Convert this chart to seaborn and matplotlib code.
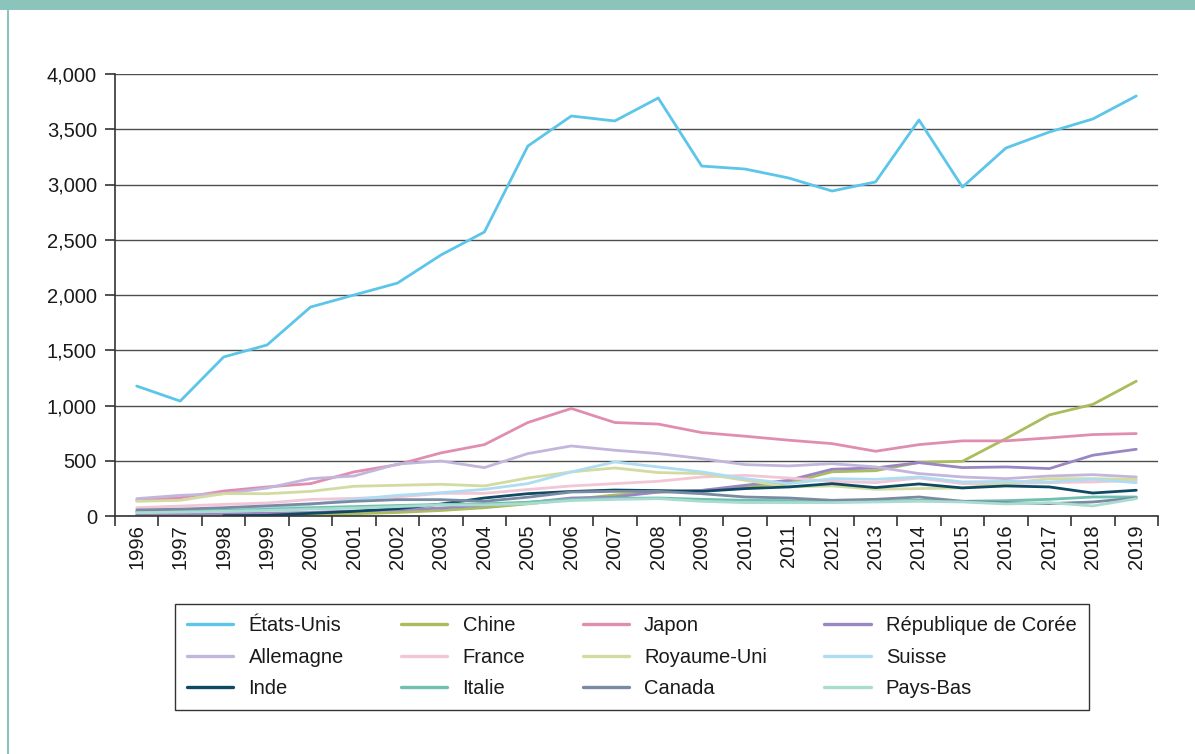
import numpy as np
import pandas as pd
import matplotlib.pyplot as plt
import seaborn as sns
from matplotlib.lines import Line2D
from matplotlib.patches import Rectangle
from matplotlib.ticker import FuncFormatter

# Years and series
years = list(range(1996, 2020))

etats_unis = [1176, 1040, 1439, 1548, 1891, 2000, 2108, 2362, 2570, 3348, 3620, 3575,
              3783, 3167, 3140, 3059, 2941, 3023, 3584, 2977, 3330, 3475, 3593, 3801]
chine = [3, 5, 7, 10, 14, 20, 32, 50, 75, 110, 150, 190,
         215, 230, 260, 300, 400, 410, 485, 495, 700, 915, 1010, 1220]
japon = [140, 165, 226, 263, 293, 399, 465, 571, 646, 846, 973, 846,
         832, 755, 722, 686, 655, 586, 646, 680, 680, 707, 737, 746]
coree = [12, 15, 20, 25, 32, 45, 55, 72, 97, 121, 163, 172,
         217, 232, 278, 323, 423, 435, 483, 438, 444, 429, 550, 604]
allemagne = [157, 187, 202, 253, 338, 362, 470, 498, 438, 565, 634, 595,
             565, 519, 465, 453, 474, 444, 384, 353, 338, 362, 374, 353]
france = [75, 90, 105, 118, 150, 160, 172, 205, 205, 240, 272, 293,
          314, 353, 368, 344, 314, 302, 344, 293, 293, 302, 308, 323]
royaume_uni = [133, 142, 202, 202, 223, 269, 278, 287, 272, 344, 399, 435,
               393, 384, 323, 263, 272, 242, 248, 254, 293, 338, 338, 332]
suisse = [35, 45, 55, 75, 105, 150, 187, 211, 241, 293, 399, 489,
          444, 399, 338, 293, 338, 332, 353, 308, 314, 308, 332, 302]
inde = [np.nan, np.nan, 3, 6, 24, 42, 66, 108, 163, 202, 222, 235,
        230, 223, 248, 263, 293, 257, 290, 254, 272, 263, 208, 233]
italie = [40, 42, 50, 60, 75, 85, 95, 105, 110, 125, 150, 160,
          163, 151, 142, 139, 133, 133, 142, 133, 139, 151, 172, 172]
canada = [55, 62, 75, 92, 110, 133, 148, 148, 133, 170, 217, 223,
          223, 202, 172, 163, 142, 151, 172, 133, 121, 112, 127, 163]
pays_bas = [30, 35, 42, 50, 62, 72, 85, 100, 100, 112, 140, 150,
            157, 133, 121, 121, 121, 127, 133, 127, 109, 121, 91, 157]

countries = ['États-Unis', 'Chine', 'Japon', 'République de Corée',
             'Allemagne', 'France', 'Royaume-Uni', 'Suisse',
             'Inde', 'Italie', 'Canada', 'Pays-Bas']
series = [etats_unis, chine, japon, coree, allemagne, france,
          royaume_uni, suisse, inde, italie, canada, pays_bas]
colors = ['#5BC5EA', '#A9BD5C', '#E08EB0', '#9B86C4',
          '#C3B6DC', '#F2C6D6', '#D2DBA0', '#AEDDF2',
          '#0F4A63', '#6FC0B0', '#7A8AA3', '#A8DCCF']

# Long-form table for seaborn
df = pd.DataFrame({name: vals for name, vals in zip(countries, series)})
df['annee'] = years
df = df.melt(id_vars='annee', var_name='pays', value_name='valeur')

sns.set_style('white')
plt.rcParams['font.family'] = ['Liberation Sans', 'DejaVu Sans']

fig = plt.figure(figsize=(11.95, 7.54), dpi=100)
ax = fig.add_axes([115 / 1195, 1 - 516 / 754, (1158 - 115) / 1195, (516 - 74) / 754])

sns.lineplot(data=df, x='annee', y='valeur', hue='pays', hue_order=countries,
             palette=dict(zip(countries, colors)), linewidth=2.0,
             legend=False, ax=ax)

# Axes styling
ax.set_xlim(1995.5, 2019.5)
ax.set_ylim(0, 4000)
ax.set_yticks(range(0, 4001, 500))
ax.yaxis.set_major_formatter(FuncFormatter(lambda v, p: f'{int(v):,}'))
ax.set_xticks(years)
ax.set_xticklabels([str(y) for y in years], rotation=90)
ax.set_xticks(np.arange(1995.5, 2020, 1), minor=True)
ax.tick_params(axis='x', which='major', length=0, pad=6, labelsize=14.5, labelcolor='#1a1a1a')
ax.tick_params(axis='x', which='minor', length=7, width=1.2, color='#333333', bottom=True)
ax.tick_params(axis='y', length=7, width=1.2, color='#333333', pad=6, labelsize=14.5,
               labelcolor='#1a1a1a', left=True)
ax.yaxis.grid(True, color='#4d4d4d', linewidth=1)
ax.set_axisbelow(True)
for s in ['top', 'right']:
    ax.spines[s].set_visible(False)
for s in ['left', 'bottom']:
    ax.spines[s].set_color('#333333')
    ax.spines[s].set_linewidth(1.2)
ax.set_xlabel('')
ax.set_ylabel('')

# Legend, filled row by row
handles = [Line2D([], [], color=c, linewidth=2.4) for c in colors]
order = [r * 4 + c for c in range(4) for r in range(3)]
leg = fig.legend([handles[i] for i in order], [countries[i] for i in order],
                 ncol=4, loc='upper left', bbox_to_anchor=(175 / 1195, 1 - 604 / 754),
                 borderaxespad=0, frameon=True, fancybox=False, edgecolor='black',
                 fontsize=14.5, handlelength=2.3, handletextpad=0.75, columnspacing=2.85,
                 labelspacing=0.62, borderpad=0.6)
leg.get_frame().set_linewidth(1.0)
for t in leg.get_texts():
    t.set_color('#1a1a1a')

# Decorative teal frame
fig.add_artist(Rectangle((0, 1 - 10 / 754), 1, 10 / 754, transform=fig.transFigure,
                         color='#8BC4BA', linewidth=0))
fig.add_artist(Line2D([8 / 1195, 8 / 1195], [0, 1], transform=fig.transFigure,
                      color='#8BC4BA', linewidth=1.5))

fig.savefig('out.png', dpi=100)
